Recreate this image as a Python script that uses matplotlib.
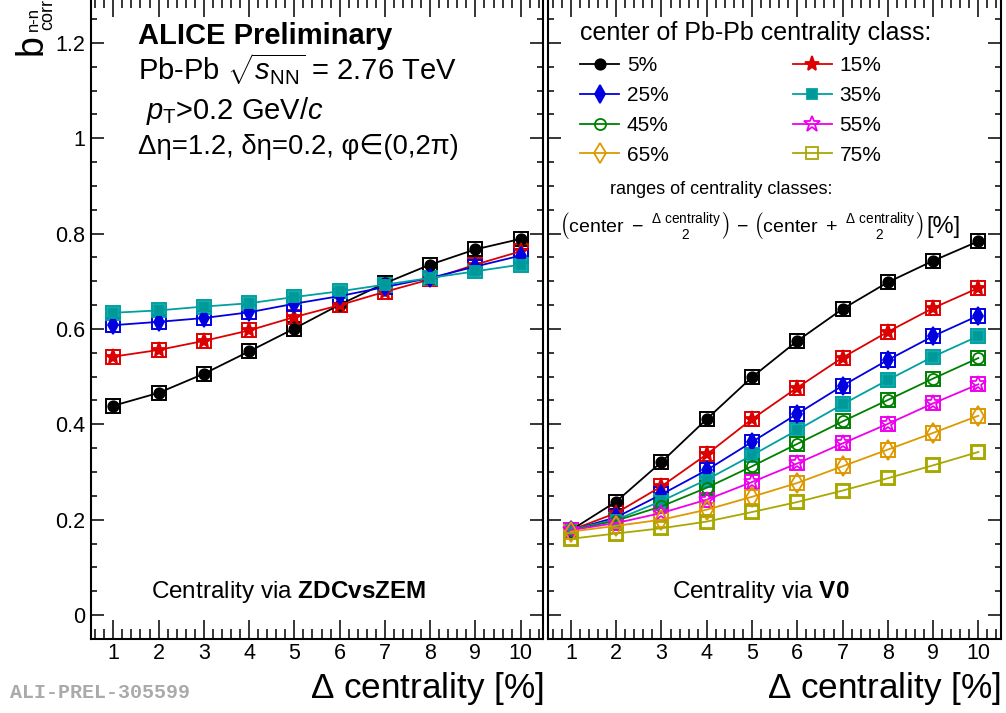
import matplotlib
matplotlib.use("Agg")
import matplotlib.pyplot as plt
import matplotlib.ticker as ticker

plt.rcParams['font.family'] = ['Liberation Sans', 'DejaVu Sans']
plt.rcParams['mathtext.fontset'] = 'custom'
plt.rcParams['mathtext.rm'] = 'Liberation Sans'
plt.rcParams['mathtext.it'] = 'Liberation Sans:italic'
plt.rcParams['mathtext.bf'] = 'Liberation Sans:bold'

# x: width of the centrality class in %
dcent = [1, 2, 3, 4, 5, 6, 7, 8, 9, 10]

# centrality via ZDCvsZEM
zdc_c5 = [0.439, 0.466, 0.506, 0.553, 0.601, 0.651, 0.696, 0.735, 0.767, 0.789]
zdc_c15 = [0.542, 0.556, 0.575, 0.597, 0.625, 0.650, 0.678, 0.704, 0.735, 0.763]
zdc_c25 = [0.608, 0.615, 0.623, 0.635, 0.653, 0.669, 0.688, 0.707, 0.731, 0.754]
zdc_c35 = [0.634, 0.639, 0.647, 0.654, 0.667, 0.679, 0.693, 0.707, 0.721, 0.735]

# centrality via V0
v0_c5 = [0.178, 0.238, 0.321, 0.411, 0.499, 0.575, 0.642, 0.698, 0.743, 0.784]
v0_c15 = [0.178, 0.214, 0.270, 0.337, 0.411, 0.477, 0.540, 0.594, 0.644, 0.686]
v0_c25 = [0.178, 0.205, 0.253, 0.304, 0.363, 0.422, 0.481, 0.535, 0.585, 0.628]
v0_c35 = [0.179, 0.200, 0.239, 0.284, 0.335, 0.388, 0.442, 0.493, 0.542, 0.585]
v0_c45 = [0.178, 0.198, 0.228, 0.267, 0.312, 0.359, 0.406, 0.451, 0.496, 0.539]
v0_c55 = [0.178, 0.193, 0.214, 0.242, 0.279, 0.318, 0.360, 0.401, 0.444, 0.484]
v0_c65 = [0.175, 0.187, 0.200, 0.221, 0.248, 0.277, 0.312, 0.347, 0.382, 0.418]
v0_c75 = [0.160, 0.171, 0.182, 0.196, 0.216, 0.237, 0.261, 0.287, 0.314, 0.342]

labels = ['5%', '15%', '25%', '35%', '45%', '55%', '65%', '75%']
zdc_series = [zdc_c5, zdc_c15, zdc_c25, zdc_c35]
v0_series = [v0_c5, v0_c15, v0_c25, v0_c35, v0_c45, v0_c55, v0_c65, v0_c75]

# marker styles (ROOT-like)
styles = [
    dict(color='black', marker='o', mfc='black', ms=7.5),
    dict(color='#dd0000', marker='*', mfc='#dd0000', ms=11),
    dict(color='#0000e0', marker='d', mfc='#0000e0', ms=9),
    dict(color='#00a0a0', marker='s', mfc='#009999', ms=7.5),
    dict(color='#008000', marker='o', mfc='none', ms=8),
    dict(color='#ee00ee', marker='*', mfc='none', ms=12),
    dict(color='#dd9900', marker='d', mfc='none', ms=10),
    dict(color='#a8a800', marker='s', mfc='none', ms=8.5),
]

W, H = 1006, 713
fig = plt.figure(figsize=(W / 100, H / 100), dpi=100)
bot = 1 - 639 / H
hgt = 641 / H
axL = fig.add_axes([90.7 / W, bot, 452.6 / W, hgt])
axR = fig.add_axes([548.3 / W, bot, 452.7 / W, hgt])


def draw(ax, series):
    handles = []
    for y, st, lab in zip(series, styles, labels):
        # systematic boxes
        ax.plot(dcent, y, ls='none', marker='s', ms=9.6, mfc='none',
                mec=st['color'], mew=1.4, zorder=3)
        h, = ax.plot(dcent, y, color=st['color'], lw=1.3, marker=st['marker'],
                     ms=st['ms'], mfc=st['mfc'], mec=st['color'], mew=1.3,
                     label=lab, zorder=4)
        handles.append(h)
    return handles


draw(axL, zdc_series)
hR = draw(axR, v0_series)

for ax in (axL, axR):
    ax.set_xlim(0.5, 10.5)
    ax.set_ylim(-0.0503, 1.2943)
    ax.xaxis.set_major_locator(ticker.MultipleLocator(1))
    ax.xaxis.set_minor_locator(ticker.MultipleLocator(0.2))
    ax.yaxis.set_major_locator(ticker.MultipleLocator(0.2))
    ax.yaxis.set_minor_locator(ticker.MultipleLocator(0.05))
    ax.yaxis.set_major_formatter(ticker.FuncFormatter(lambda v, p: f"{v:g}"))
    ax.tick_params(which='both', direction='in', top=True, right=True,
                   width=1.1, labelsize=15.5)
    ax.tick_params(axis='x', which='major', length=13.7, pad=3)
    ax.tick_params(axis='x', which='minor', length=7)
    ax.tick_params(axis='y', which='major', length=9.4, pad=4)
    ax.tick_params(axis='y', which='minor', length=4.5)
    for s in ax.spines.values():
        s.set_linewidth(1.5)
    ax.text(1.0, -0.077, r'$\Delta$ centrality [%]', transform=ax.transAxes,
            ha='right', va='center', fontsize=25.3)

axR.tick_params(labelleft=False)

# left panel texts
axL.text(0.1045, 0.9285, 'ALICE Preliminary', transform=axL.transAxes,
         fontsize=21, fontweight='bold', va='baseline')
axL.text(0.1045, 0.872, r'Pb-Pb $\sqrt{s_{\mathrm{NN}}}$ = 2.76 TeV',
         transform=axL.transAxes, fontsize=21, va='baseline')
axL.text(0.1045, 0.812, r' $p_{\mathrm{T}}$>0.2 GeV/$c$',
         transform=axL.transAxes, fontsize=21, va='baseline')
axL.text(0.1045, 0.756, 'Δη=1.2, δη=0.2, φ∈(0,2π)',
         transform=axL.transAxes, fontsize=19.8, va='baseline')
axL.text(0.438, 0.0736, r'Centrality via $\mathbf{ZDCvsZEM}$',
         transform=axL.transAxes, fontsize=17.5, ha='center', va='center')
axR.text(0.47, 0.0736, r'Centrality via $\mathbf{V0}$',
         transform=axR.transAxes, fontsize=17.5, ha='center', va='center')

# legend (row-wise order)
order = [0, 2, 4, 6, 1, 3, 5, 7]
leg = axR.legend([hR[i] for i in order], [labels[i] for i in order], ncol=2,
                 loc='upper left', bbox_to_anchor=(0.0707, 0.9635),
                 frameon=False, numpoints=1, fontsize=15, title_fontsize=18,
                 title='center of Pb-Pb centrality class:', alignment='left',
                 borderpad=0, borderaxespad=0, handlelength=1.87,
                 handletextpad=0.37, columnspacing=5.95, labelspacing=0.52)

axR.text(0.383, 0.702, 'ranges of centrality classes:', transform=axR.transAxes,
         fontsize=13, ha='center', va='center')
frac = r'\genfrac{}{}{0}{}{\mathregular{\Delta\ centrality}}{\mathregular{2}}'
axR.text(0.024, 0.643,
         r'$\left(\mathregular{center\ -\ }' + frac + r'\right)\ \mathregular{-}\ '
         r'\left(\mathregular{center\ +\ }' + frac + r'\right)$',
         transform=axR.transAxes, fontsize=14, ha='left', va='center')
axR.text(0.872, 0.643, '[%]', transform=axR.transAxes, fontsize=17,
         ha='center', va='center')

# y title: b with stacked super/subscript (rotated)
fig.text(42 / W, 1 - 55 / H, 'b', rotation=90, rotation_mode='anchor',
         fontsize=27, ha='left', va='baseline')
fig.text(37.5 / W, 1 - 31 / H, 'n-n', rotation=90, rotation_mode='anchor',
         fontsize=12, ha='left', va='baseline')
fig.text(52.5 / W, 1 - 30 / H, 'corr', rotation=90, rotation_mode='anchor',
         fontsize=13, ha='left', va='baseline')

fig.text(10 / W, 1 - 693 / H, 'ALI-PREL-305599', family='Liberation Mono',
         fontweight='bold', color='#aaaaaa', fontsize=14.4, va='center')

fig.savefig('out.png', dpi=100)
